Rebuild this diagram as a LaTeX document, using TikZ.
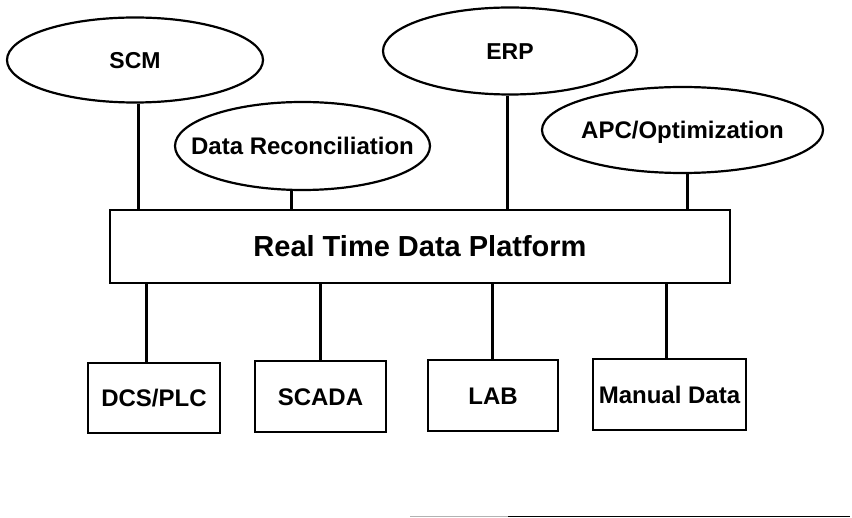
\documentclass[tikz,border=0pt]{standalone}
\usepackage{fontspec}
\setmainfont{Liberation Sans}
\usetikzlibrary{shapes.geometric}
\begin{document}
\begin{tikzpicture}[x=1pt,y=-1pt,
  txt/.style={font=\bfseries\fontsize{24}{26}\selectfont, text height=17.2pt, text depth=0pt, inner sep=0pt},
  small/.style={font=\bfseries\fontsize{23}{25}\selectfont, text height=16.5pt},
  big/.style={font=\bfseries\fontsize{29}{31}\selectfont, text height=20.8pt},
  oval/.style={ellipse, draw, line width=2.2pt, txt, inner xsep=-60pt},
  box/.style={rectangle, draw, line width=2.6pt, txt},
  link/.style={line width=3pt}]
\useasboundingbox (0,0) rectangle (852,518);
% top ellipses
\node[oval, small, minimum width=256, minimum height=85] (scm) at (135,60) {SCM};
\node[oval, small, minimum width=254, minimum height=87] (erp) at (510,51) {ERP};
\node[oval, minimum width=255, minimum height=88] (dr) at (302.5,146) {Data Reconciliation};
\node[oval, minimum width=281, minimum height=86] (apc) at (682.5,130) {APC/Optimization};
% platform
\node[box, big, minimum width=620, minimum height=73] (rtdp) at (420,246.5) {Real Time Data Platform};
% bottom boxes
\node[box, minimum width=132, minimum height=70] (dcs) at (154,398) {DCS/PLC};
\node[box, minimum width=131, minimum height=71] (scada) at (320.5,396.5) {SCADA};
\node[box, minimum width=130, minimum height=71] (lab) at (493,395.5) {LAB};
\node[box, minimum width=153, minimum height=71] (man) at (669.5,394.5) {Manual Data};
% upper connectors
\draw[link] ([xshift=3]scm.south) -- ([xshift=3]scm.south |- rtdp.north);
\draw[link] ([xshift=-11.5]dr.south) -- ([xshift=-11.5]dr.south |- rtdp.north);
\draw[link] ([xshift=-3]erp.south) -- ([xshift=-3]erp.south |- rtdp.north);
\draw[link] ([xshift=4.5]apc.south) -- ([xshift=4.5]apc.south |- rtdp.north);
% lower connectors
\draw[link] ([xshift=-8]dcs.north) -- ([xshift=-8]dcs.north |- rtdp.south);
\draw[link] (scada.north) -- (scada.north |- rtdp.south);
\draw[link] ([xshift=-1]lab.north) -- ([xshift=-1]lab.north |- rtdp.south);
\draw[link] ([xshift=-3.5]man.north) -- ([xshift=-3.5]man.north |- rtdp.south);
% bottom rule
\draw[line width=1.5pt, gray!60] (410,516.5) -- (508,516.5);
\draw[line width=1.5pt] (508,516.5) -- (850,516.5);
\end{tikzpicture}
\end{document}
